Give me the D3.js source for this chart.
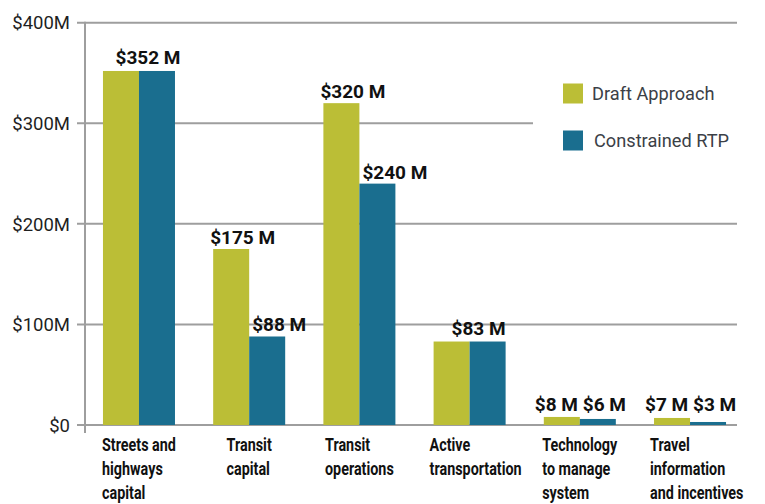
<!DOCTYPE html>
<html>
<head>
<meta charset="utf-8">
<script src="https://cdn.jsdelivr.net/npm/d3@7"></script>
<style>
  html, body { margin: 0; padding: 0; background: #fff; }
  svg { display: block; }
</style>
</head>
<body>
<svg id="chart" width="765" height="504"></svg>
<script>
const categories = [
  ["Streets and", "highways", "capital"],
  ["Transit", "capital"],
  ["Transit", "operations"],
  ["Active", "transportation"],
  ["Technology", "to manage", "system"],
  ["Travel", "information", "and incentives"]
];
const draftValues = [352, 175, 320, 83, 8, 7];
const constrainedValues = [352, 88, 240, 83, 6, 3];
const seriesNames = ["Draft Approach", "Constrained RTP"];
const seriesColors = ["#bbbe36", "#1a6e8f"];
const yTicks = [0, 100, 200, 300, 400];
const yTickLabels = ["$0", "$100M", "$200M", "$300M", "$400M"];

const svg = d3.select("#chart");
const gridColor = "#9e9e9e";
const sans = "Roboto, 'Noto Sans', sans-serif";

const y = d3.scaleLinear().domain([0, 400]).range([425, 22.7]);
const x0 = d3.scaleBand()
  .domain(d3.range(categories.length))
  .range([85, 744])
  .paddingInner(0.3466)
  .paddingOuter(0.163);
const x1 = d3.scaleBand().domain([0, 1]).range([0, x0.bandwidth()]);

// gridlines
svg.append("g").selectAll("line").data(yTicks).join("line")
  .attr("x1", 77)
  .attr("x2", d => d === 300 ? 533 : 737)
  .attr("y1", d => y(d)).attr("y2", d => y(d))
  .attr("stroke", gridColor).attr("stroke-width", 2);

// y axis line
svg.append("line")
  .attr("x1", 85).attr("x2", 85)
  .attr("y1", y(400) - 1).attr("y2", y(0) + 8)
  .attr("stroke", gridColor).attr("stroke-width", 2);

// y tick labels
svg.append("g").selectAll("text").data(yTicks).join("text")
  .attr("x", 70).attr("y", d => y(d))
  .attr("dy", "0.36em")
  .attr("text-anchor", "end")
  .attr("font-family", sans).attr("font-size", 18.5)
  .attr("fill", "#1f1f1f")
  .text((d, i) => yTickLabels[i]);

// bars
const series = [draftValues, constrainedValues];
const gBars = svg.append("g");
series.forEach((vals, s) => {
  gBars.selectAll(null).data(vals).join("rect")
    .attr("x", (d, i) => x0(i) + x1(s))
    .attr("width", x1.bandwidth())
    .attr("y", d => y(d))
    .attr("height", d => y(0) - y(d))
    .attr("fill", seriesColors[s]);
});

// value labels
const gLab = svg.append("g")
  .attr("font-family", sans).attr("font-weight", "bold")
  .attr("font-size", 19).attr("fill", "#111");
const floorBase = y(0) - 14;
const labelBase = v => Math.min(y(v) - 5, floorBase);
categories.forEach((c, i) => {
  const a = draftValues[i], b = constrainedValues[i];
  if (a === b) {
    gLab.append("text")
      .attr("x", x0(i) + x0.bandwidth() / 2 + 9)
      .attr("y", labelBase(a) - 2)
      .attr("text-anchor", "middle")
      .text(`$${a} M`);
  } else {
    const low = labelBase(a) === floorBase;
    gLab.append("text")
      .attr("x", x0(i) + x1(0) + (low ? -9 : -3))
      .attr("y", labelBase(a))
      .text(`$${a} M`);
    gLab.append("text")
      .attr("x", x0(i) + x1(1) + 3)
      .attr("y", labelBase(b))
      .text(`$${b} M`);
  }
});

// category labels (condensed look via horizontal scaling)
const sx = 0.82;
const gCat = svg.append("g");
categories.forEach((lines, i) => {
  const t = gCat.append("text")
    .attr("y", 451)
    .attr("font-family", sans).attr("font-weight", "bold")
    .attr("font-size", 17.5).attr("fill", "#111");
  lines.forEach((ln, j) => {
    t.append("tspan").attr("x", 0).attr("dy", j === 0 ? 0 : 24).text(ln);
  });
  const w = t.node().getBBox().width * sx;
  let left = x0(i) + x0.bandwidth() / 2 - w / 2;
  left = Math.max(left, x0(i) - 4);
  t.attr("transform", `translate(${left},0) scale(${sx},1)`);
});

// legend
const legend = svg.append("g");
const legendY = [83.5, 130.5];
seriesNames.forEach((name, s) => {
  legend.append("rect")
    .attr("x", 563).attr("y", legendY[s])
    .attr("width", 20).attr("height", 20)
    .attr("fill", seriesColors[s]);
  legend.append("text")
    .attr("x", s === 0 ? 592 : 594).attr("y", legendY[s] + 16)
    .attr("font-family", sans).attr("font-size", 18.2)
    .attr("fill", "#3b4046")
    .text(name);
});
</script>
</body>
</html>
